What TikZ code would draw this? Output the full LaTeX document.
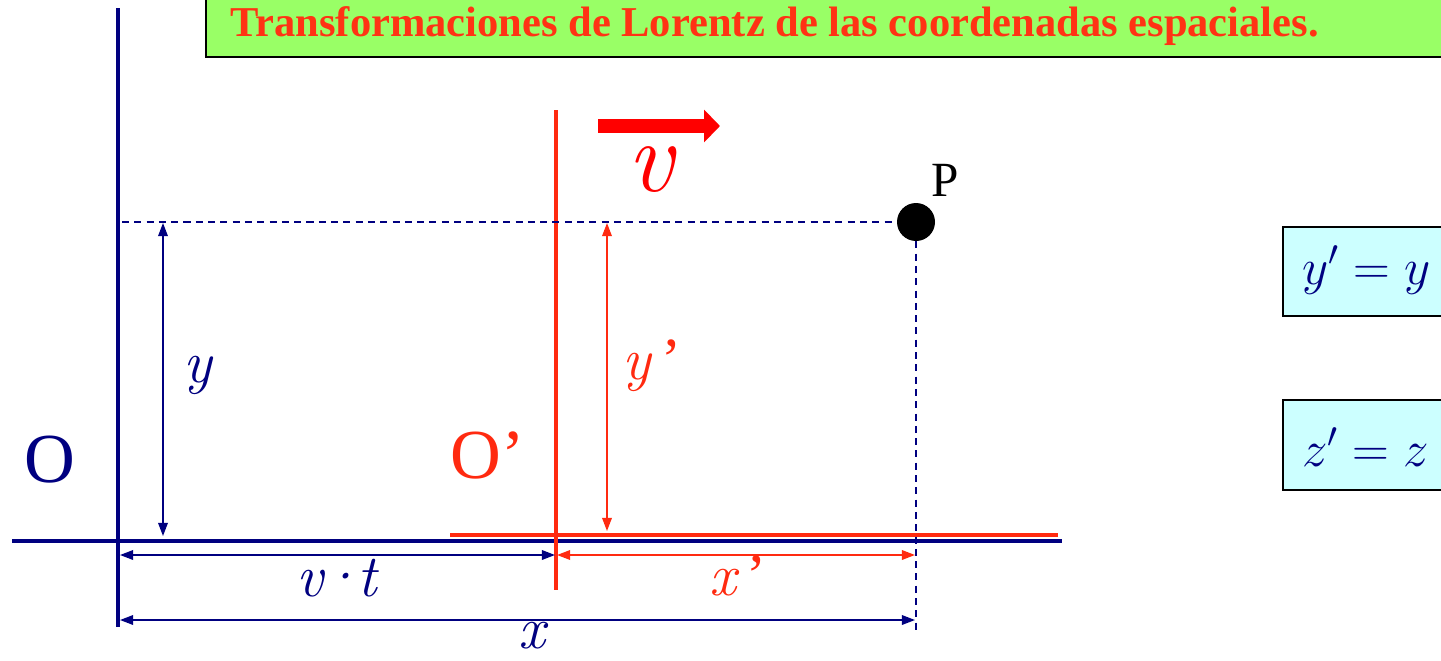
\RequirePackage{fix-cm}
\documentclass[tikz,border=0pt]{standalone}
\usepackage{fontspec}
\setmainfont{Liberation Serif}
\newfontfamily\lmr{Latin Modern Roman}
\usetikzlibrary{arrows.meta,positioning}
\definecolor{navy}{RGB}{0,0,128}
\definecolor{ored}{RGB}{255,42,16}
\definecolor{tred}{RGB}{255,51,20}
\definecolor{lgreen}{RGB}{153,255,102}
\definecolor{lcyan}{RGB}{204,255,255}

\begin{document}
\begin{tikzpicture}[x=0.02cm, y=-0.02cm,
  lbl/.style={inner sep=0pt, font=\fontsize{34}{38}\selectfont\lmr\itshape},
  big/.style={inner sep=0pt, font=\fontsize{40}{46}\selectfont},
  tip/.style={{Triangle[length=7.5pt,width=5.5pt]}-{Triangle[length=7.5pt,width=5.5pt]}, line width=0.85pt},
  guide/.style={navy, dash pattern=on 4pt off 3pt, line width=0.85pt},
  eqbox/.style={draw=black, fill=lcyan, line width=1.2pt},
  eq/.style={anchor=west, inner sep=0pt, navy, font=\fontsize{29}{34}\selectfont}]
\clip (0,0) rectangle (1441,660);

% title
\draw[fill=lgreen, line width=1.2pt] (206,-5) rectangle (1460,57);
\node[anchor=west, inner sep=0pt, tred, font=\fontsize{24.2}{29}\selectfont\bfseries] (title) at (230,26)
  {Transformaciones de Lorentz de las coordenadas espaciales.};

% frame O
\coordinate (o) at (118,541);
\draw[navy, line width=2.3pt] (118,8) -- (118,627);
\draw[navy, line width=2.3pt] (12,541) -- (1062,541);
\node[big, navy] (olbl) at (50,460) {O};

% frame O'
\coordinate (op) at (556,541);
\draw[ored, line width=2.8pt] (450,535) -- (1058,535);
\draw[ored, line width=2.1pt] (556,110) -- (556,590);
\node[big, ored] (oplbl) at (488,455) {O’};

% velocity
\coordinate (va) at (598,126);
\coordinate (vb) at (720,126);
\draw[red, line width=8pt, -{Triangle[length=9pt,width=18pt]}] (va) -- (vb);
\node[inner sep=0pt, red, font=\fontsize{58}{62}\selectfont\lmr\itshape] (vlbl) at (650,170) {v};

% point P
\node[circle, fill=black, minimum size=0.76cm, inner sep=0pt] (P) at (916,222) {};
\node[inner sep=0pt, font=\fontsize{28}{32}\selectfont] (plbl) at (945,180) {P};
\coordinate (ytop) at (122,222);
\coordinate (xbot) at (916,632);
\draw[guide] (ytop) -- (P.west);
\draw[guide] (P.south) -- (xbot);

% y and y'
\coordinate (y1) at (163,223);
\coordinate (y2) at (163,536);
\draw[tip, navy] (y1) -- (y2);
\node[lbl, navy] (ylbl) at (198,375) {y};
\coordinate (yp1) at (607,223);
\coordinate (yp2) at (607,531);
\draw[tip, ored] (yp1) -- (yp2);
\node[lbl, ored] (yplbl) at (652,366) {y\,{\upshape\rmfamily ’}};

% x, x', v t
\coordinate (vt1) at (120,555);
\coordinate (vt2) at (555,555);
\draw[tip, navy] (vt1) -- (vt2);
\node[lbl, navy] (vtlbl) at (337,578) {v\kern-3pt·\kern-3pt t};
\coordinate (xp1) at (557,555);
\coordinate (xp2) at (915,555);
\draw[tip, ored] (xp1) -- (xp2);
\node[lbl, ored] (xplbl) at (738,576) {x\,{\upshape\rmfamily ’}};
\coordinate (x1) at (120,620);
\coordinate (x2) at (915,620);
\draw[tip, navy] (x1) -- (x2);
\node[lbl, navy] (xlbl) at (532,636) {x};

% equations
\draw[eqbox] (1283,227) rectangle (1460,316);
\node[eq] (eqy) at (1302,270) {$y'=y$};
\draw[eqbox] (1283,400) rectangle (1460,490);
\node[eq] (eqz) at (1302,447) {$z'=z$};
\end{tikzpicture}
\end{document}
